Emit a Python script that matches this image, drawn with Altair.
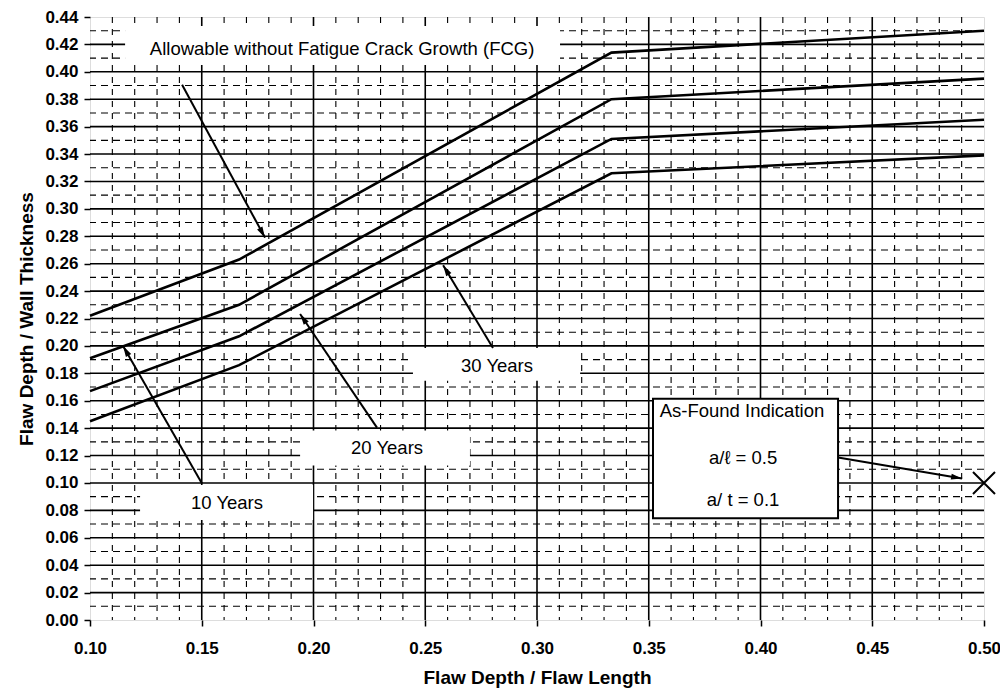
import math
import altair as alt
import pandas as pd

# ---- data ----
x_pts = [0.10, 0.1667, 0.3333, 0.50]
allowable = [0.222, 0.263, 0.414, 0.430]
years10 = [0.191, 0.230, 0.380, 0.395]
years20 = [0.167, 0.207, 0.351, 0.365]
years30 = [0.145, 0.186, 0.326, 0.339]
series_names = ["Allowable", "10 Years", "20 Years", "30 Years"]

x_ticks = [0.10, 0.15, 0.20, 0.25, 0.30, 0.35, 0.40, 0.45, 0.50]
y_ticks = [round(0.02 * i, 2) for i in range(23)]
major_x = [0.15, 0.20, 0.25, 0.30, 0.35, 0.40, 0.45]
minor_x = [round(0.10 + 0.01 * i, 2) for i in range(1, 40) if i % 5 != 0]
major_y = [round(0.02 * i, 2) for i in range(1, 22)]
minor_y = [round(0.01 * i, 2) for i in range(1, 44, 2)]

label_texts = ["Allowable without Fatigue Crack Growth (FCG)", "10 Years", "20 Years",
               "30 Years", "As-Found Indication", "a/\u2113 = 0.5", "a/ t = 0.1"]
label_x = [0.2128, 0.1613, 0.2329, 0.2821, 0.3917, 0.3922, 0.3922]
label_y = [0.4168, 0.0851, 0.1258, 0.1855, 0.1527, 0.1185, 0.0873]

box_x1 = [0.1157, 0.1224, 0.1940, 0.2445]
box_x2 = [0.3103, 0.1998, 0.2700, 0.3193]
box_y1 = [0.4050, 0.0730, 0.1127, 0.1745]
box_y2 = [0.4335, 0.0985, 0.1382, 0.1985]

found_box_x1 = [0.3519]
found_box_x2 = [0.4347]
found_box_y1 = [0.0742]
found_box_y2 = [0.1615]

arrow_x1 = [0.1412, 0.1501, 0.2284, 0.2803, 0.4347]
arrow_y1 = [0.3905, 0.0996, 0.1404, 0.1985, 0.1185]
arrow_x2 = [0.1783, 0.1148, 0.1940, 0.2580, 0.4902]
arrow_y2 = [0.2790, 0.2000, 0.2233, 0.2589, 0.1033]

found_x = [0.50]
found_y = [0.10]

# ---- layout ----
W, H = 894, 603
XD = [0.10, 0.50]
YD = [0.0, 0.44]
FONT = "Liberation Sans"

def angle(x1, y1, x2, y2):
    dx = (x2 - x1) / (XD[1] - XD[0]) * W
    dy = -(y2 - y1) / (YD[1] - YD[0]) * H
    return math.degrees(math.atan2(dx, -dy)) % 360

xs = alt.Scale(domain=XD, nice=False, zero=False)
ys = alt.Scale(domain=YD, nice=False, zero=False)
x_axis = alt.Axis(values=x_ticks, format=".2f", grid=False, domain=False, labelFlush=False,
                  tickSize=6, tickWidth=1.5, tickColor="black", labelPadding=14,
                  labelFont=FONT, labelFontSize=17, labelFontWeight="bold", labelColor="black",
                  title="Flaw Depth / Flaw Length", titleFont=FONT, titleFontSize=19,
                  titleFontWeight="bold", titleColor="black", titleY=63,
                  titleBaseline="alphabetic")
y_axis = alt.Axis(values=y_ticks, format=".2f", grid=False, domain=False, labelFlush=False,
                  tickSize=6, tickWidth=1.5, tickColor="black", labelPadding=6,
                  labelFont=FONT, labelFontSize=17, labelFontWeight="bold", labelColor="black",
                  title="Flaw Depth / Wall Thickness", titleFont=FONT, titleFontSize=19,
                  titleFontWeight="bold", titleColor="black", titleX=-58, titleY=H / 2,
                  titleAngle=270, titleAlign="center", titleBaseline="alphabetic")

def X(f):
    return alt.X(f, type="quantitative", scale=xs, axis=x_axis)

def Y(f):
    return alt.Y(f, type="quantitative", scale=ys, axis=y_axis)

# grid
g_minor_x = alt.Chart(pd.DataFrame({"gx": minor_x})).mark_rule(
    color="black", strokeWidth=1.1, strokeDash=[6, 6]).encode(x=X("gx"))
g_minor_y = alt.Chart(pd.DataFrame({"gy": minor_y})).mark_rule(
    color="black", strokeWidth=1.1, strokeDash=[7, 5]).encode(y=Y("gy"))
g_major_x = alt.Chart(pd.DataFrame({"gx": major_x})).mark_rule(
    color="black", strokeWidth=1.6).encode(x=X("gx"))
g_major_y = alt.Chart(pd.DataFrame({"gy": major_y})).mark_rule(
    color="black", strokeWidth=1.6).encode(y=Y("gy"))

# white label boxes
boxes = alt.Chart(pd.DataFrame({"x1": box_x1, "x2": box_x2, "y1": box_y1, "y2": box_y2})).mark_rect(
    fill="white").encode(x=X("x1"), x2="x2", y=Y("y1"), y2="y2")
found_box = alt.Chart(pd.DataFrame({"x1": found_box_x1, "x2": found_box_x2,
                                   "y1": found_box_y1, "y2": found_box_y2})).mark_rect(
    fill="white", stroke="black", strokeWidth=2).encode(x=X("x1"), x2="x2", y=Y("y1"), y2="y2")

# curves
rows = []
for name, vals in zip(series_names, [allowable, years10, years20, years30]):
    for i, (xv, yv) in enumerate(zip(x_pts, vals)):
        rows.append({"x": xv, "y": yv, "series": name, "order": i})
curves = alt.Chart(pd.DataFrame(rows)).mark_line(color="black", strokeWidth=2.6).encode(
    x=X("x"), y=Y("y"), detail="series:N", order="order:Q")

# arrows
adf = pd.DataFrame({"x1": arrow_x1, "y1": arrow_y1, "x2": arrow_x2, "y2": arrow_y2})
adf["ang"] = [angle(a, b, c, d) for a, b, c, d in zip(arrow_x1, arrow_y1, arrow_x2, arrow_y2)]
shafts = alt.Chart(adf).mark_rule(color="black", strokeWidth=2).encode(
    x=X("x1"), y=Y("y1"), x2="x2", y2="y2")
heads = alt.Chart(adf).mark_point(
    shape="M0,0 L-0.55,2 L0.55,2 Z", filled=True, color="black", size=121, opacity=1).encode(
    x=X("x2"), y=Y("y2"), angle=alt.Angle("ang:Q", scale=None))

# labels
texts = alt.Chart(pd.DataFrame({"t": label_texts, "x": label_x, "y": label_y})).mark_text(
    font=FONT, fontSize=18.5, color="black", align="center", baseline="middle").encode(
    x=X("x"), y=Y("y"), text="t:N")

# as-found point
found = alt.Chart(pd.DataFrame({"x": found_x, "y": found_y})).mark_point(
    shape="M-1,-1 L1,1 M-1,1 L1,-1", filled=False, color="black", strokeWidth=2,
    size=484, opacity=1).encode(x=X("x"), y=Y("y"))

chart = alt.layer(
    g_minor_x, g_minor_y, g_major_x, g_major_y, boxes, curves, shafts, heads,
    found_box, texts, found
).properties(
    width=W, height=H,
    autosize=alt.AutoSizeParams(type="none"),
    padding={"left": 82, "top": 9, "right": 16, "bottom": 72},
).configure_view(stroke="black", strokeWidth=2).configure(background="white")

chart.save("out.html", embed_options={"renderer": "svg", "actions": False})
